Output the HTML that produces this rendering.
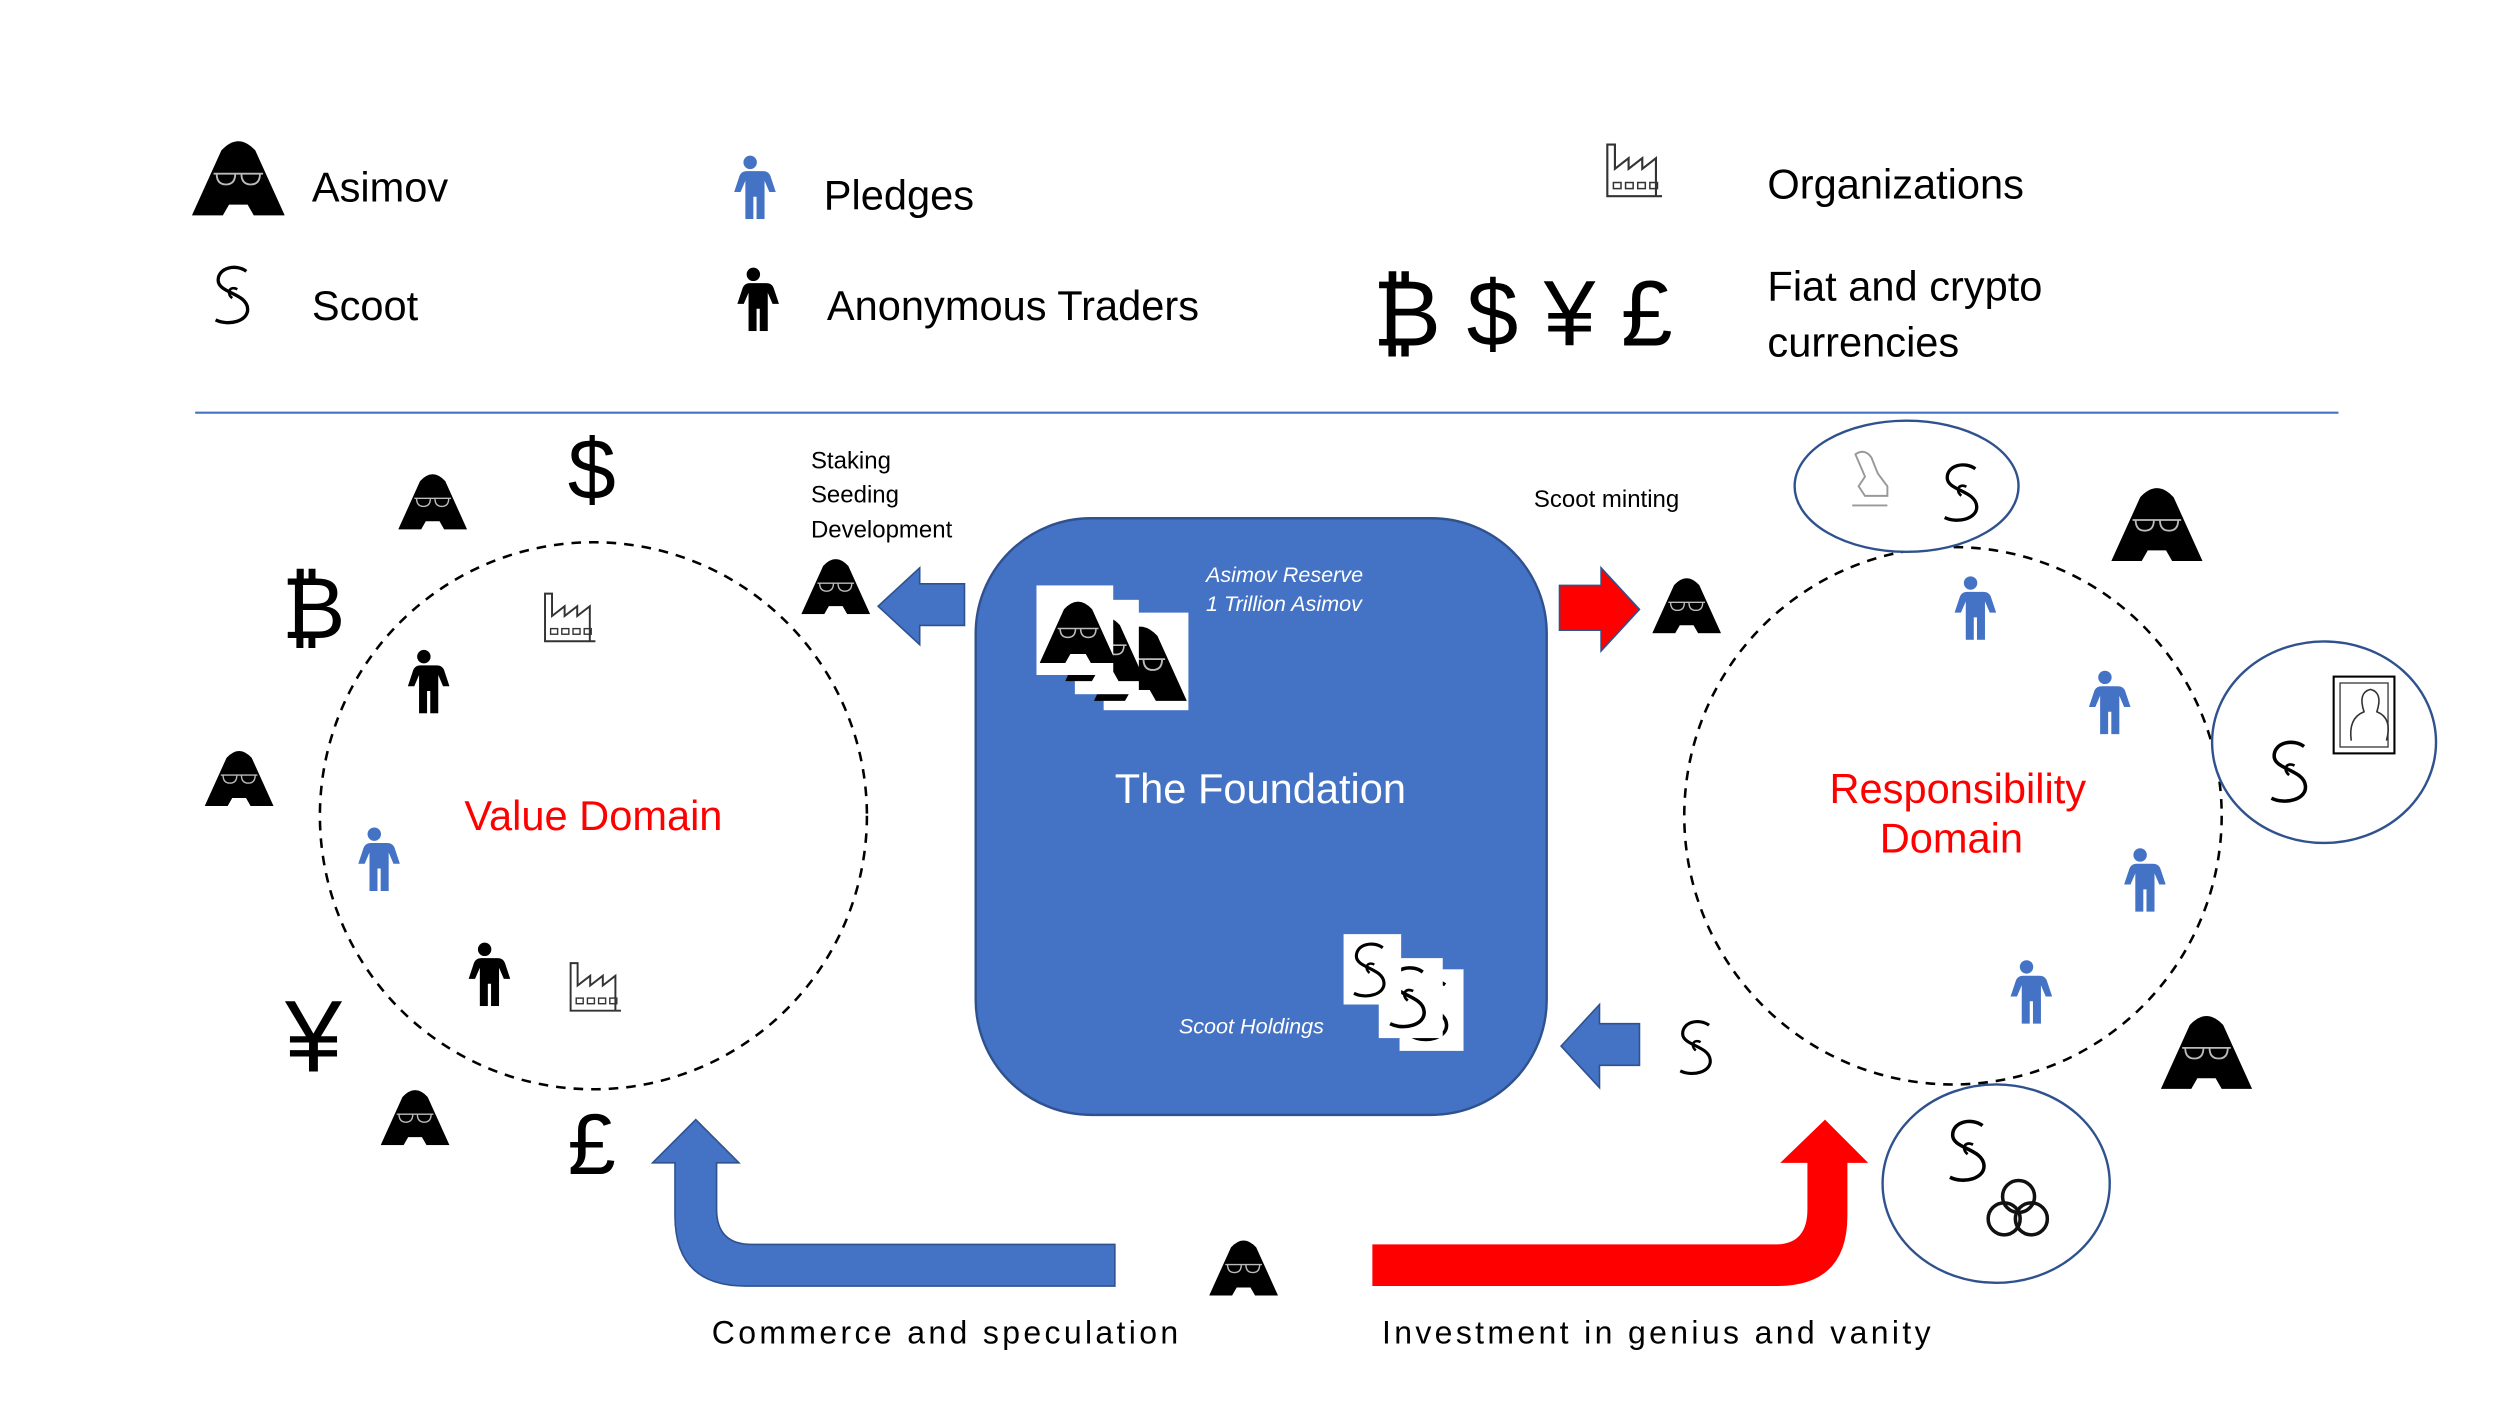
<!DOCTYPE html>
<html><head><meta charset="utf-8"><style>
html,body{margin:0;padding:0;background:#fff;}
svg{display:block;}
text{font-family:"Liberation Sans","DejaVu Sans",sans-serif;}
</style></head><body>
<svg width="2500" height="1406" viewBox="0 0 1563 879" xmlns="http://www.w3.org/2000/svg">
<defs>
<symbol id="asi" viewBox="0 0 60 50">
<path d="M0,50 L19,8 Q30,-4 41,8 L60,50 L40,50 L36,43 L24,43 L20,50 Z" fill="#000"/>
<path d="M14,23 h32 M16,23 q0,7 6,7 q6,0 6,-7 M32,23 q0,7 6,7 q6,0 6,-7" fill="none" stroke="#bbb" stroke-width="1.2"/>
</symbol>
<symbol id="sc" viewBox="0 0 40 50">
<path d="M30,7 C22,1 8,4 8,14 C8,24 30,24 31,36 C32,46 16,50 6,45" fill="none" stroke="#000" stroke-width="2.6"/>
<path d="M23,21 C17,18 14,24 19,28" fill="none" stroke="#000" stroke-width="2"/>
</symbol>
<symbol id="pp" viewBox="0 0 32 40">
<circle cx="16" cy="4.5" r="4.2"/>
<path d="M8,10 h16 q4,0 5,4 l3,9 h-4 l-3,-7 v24 h-5 v-14 h-2 v14 h-5 v-24 l-3,7 h-4 l3,-9 q1,-4 5,-4 Z"/>
</symbol>
<symbol id="fac" viewBox="0 0 40 38">
<path d="M2,36 V2 h5 V18 l9,-7 v7 l9,-7 v7 l9,-7 v25 Z M2,36 h36" fill="none" stroke="#333" stroke-width="1.4"/>
<rect x="6" y="27" width="5" height="4" fill="none" stroke="#333"/><rect x="14" y="27" width="5" height="4" fill="none" stroke="#333"/><rect x="22" y="27" width="5" height="4" fill="none" stroke="#333"/><rect x="30" y="27" width="5" height="4" fill="none" stroke="#333"/>
</symbol>
</defs>

<use href="#asi" x="120" y="86" width="58" height="49"/>
<text x="195" y="126" font-size="26">Asimov</text>
<use href="#sc" x="130" y="163" width="32" height="42"/>
<text x="195" y="200" font-size="26">Scoot</text>
<use href="#pp" x="452" y="97" width="34" height="40" fill="#4472c4"/>
<text x="515" y="131" font-size="26">Pledges</text>
<use href="#pp" x="454" y="167" width="34" height="40" fill="#000"/>
<text x="517" y="200" font-size="26">Anonymous Traders</text>
<use href="#fac" x="1003" y="88" width="38" height="37"/>
<text x="1105" y="124" font-size="26">Organizations</text>
<text x="858" y="216" font-size="58" letter-spacing="16">₿$¥£</text>
<text x="1105" y="188" font-size="26">Fiat and crypto</text>
<text x="1105" y="223" font-size="26">currencies</text>
<line x1="122" y1="258" x2="1462" y2="258" stroke="#4472c4" stroke-width="1.3"/>

<circle cx="371" cy="510" r="171" fill="none" stroke="#000" stroke-width="1.6" stroke-dasharray="6,5"/>
<circle cx="1221" cy="510" r="168" fill="none" stroke="#000" stroke-width="1.6" stroke-dasharray="6,5"/>
<text x="371" y="519" font-size="26" fill="#f00" text-anchor="middle">Value Domain</text>
<text x="1224" y="502" font-size="26" fill="#f00" text-anchor="middle">Responsibility</text>
<text x="1220" y="533" font-size="26" fill="#f00" text-anchor="middle">Domain</text>

<rect x="610" y="324" width="357" height="373" rx="72" fill="#4472c4" stroke="#2f528f" stroke-width="1.5"/>
<text x="788" y="502" font-size="26" fill="#fff" text-anchor="middle">The Foundation</text>
<text x="754" y="364" font-size="13.5" fill="#fff" font-style="italic">Asimov Reserve</text>
<text x="754" y="382" font-size="13.5" fill="#fff" font-style="italic">1 Trillion Asimov</text>
<text x="737" y="646" font-size="13.5" fill="#fff" font-style="italic">Scoot Holdings</text>
<rect x="690" y="383" width="53" height="61" fill="#fff"/><use href="#asi" x="684" y="388" width="58" height="52"/>
<rect x="672" y="375" width="40" height="59" fill="#fff"/><use href="#asi" x="666" y="380" width="50" height="50"/>
<rect x="648" y="366" width="48" height="56" fill="#fff"/><use href="#asi" x="650" y="372" width="48" height="45"/>
<rect x="875" y="606" width="40" height="51" fill="#fff"/><use href="#sc" x="878" y="608" width="34" height="46"/>
<rect x="862" y="599" width="40" height="50" fill="#fff"/><use href="#sc" x="864" y="600" width="34" height="46"/>
<rect x="840" y="584" width="36" height="44" fill="#fff"/><use href="#sc" x="842" y="585" width="30" height="42"/>

<path d="M603,365 H575 V355 L549,379 L575,403 V391 H603 Z" fill="#4472c4" stroke="#2f528f"/>
<path d="M975,366 H1001 V355 L1025,381 L1001,407 V394 H975 Z" fill="#f00" stroke="#2f528f"/>
<path d="M1025,640 H1000 V628 L976,654 L1000,680 V666 H1025 Z" fill="#4472c4" stroke="#2f528f"/>
<text x="507" y="293" font-size="15">Staking</text>
<text x="507" y="314" font-size="15">Seeding</text>
<text x="507" y="336" font-size="15">Development</text>
<text x="959" y="317" font-size="15">Scoot minting</text>

<path d="M697,778 H470 Q448,778 448,756 V727 H462 L435,700 L408,727 H422 V760 Q422,804 466,804 H697 Z" fill="#4472c4" stroke="#2f528f"/>
<path d="M858,778 H1110 Q1130,778 1130,756 V727 H1113 L1141,700 L1168,727 H1155 V760 Q1155,804 1111,804 H858 Z" fill="#f00"/>
<text x="445" y="840" font-size="20" letter-spacing="2.1">Commerce and speculation</text>
<text x="864" y="840" font-size="20" letter-spacing="2.1">Investment in genius and vanity</text>

<use href="#asi" x="249" y="295" width="43" height="36"/>
<use href="#asi" x="128" y="468" width="43" height="36"/>
<use href="#asi" x="238" y="680" width="43" height="36"/>
<use href="#asi" x="501" y="348" width="43" height="36"/>
<use href="#asi" x="1033" y="360" width="43" height="36"/>
<use href="#asi" x="1320" y="303" width="57" height="48"/>
<use href="#asi" x="1351" y="633" width="57" height="48"/>
<use href="#asi" x="756" y="774" width="43" height="36"/>

<text x="370" y="312" font-size="54" text-anchor="middle">$</text>
<text x="196" y="399" font-size="54" text-anchor="middle">₿</text>
<text x="196" y="670" font-size="64" text-anchor="middle">¥</text>
<text x="370" y="734" font-size="54" text-anchor="middle">£</text>

<use href="#fac" x="339" y="369" width="35" height="34"/>
<use href="#fac" x="355" y="600" width="35" height="34"/>
<use href="#pp" x="249" y="406" width="32" height="40" fill="#000"/>
<use href="#pp" x="287" y="589" width="32" height="40" fill="#000"/>
<use href="#pp" x="218" y="517" width="32" height="40" fill="#4472c4"/>
<use href="#pp" x="1216" y="360" width="32" height="40" fill="#4472c4"/>
<use href="#pp" x="1300" y="419" width="32" height="40" fill="#4472c4"/>
<use href="#pp" x="1322" y="530" width="32" height="40" fill="#4472c4"/>
<use href="#pp" x="1251" y="600" width="32" height="40" fill="#4472c4"/>
<use href="#sc" x="1046" y="632" width="30" height="45"/>

<ellipse cx="1192" cy="304" rx="70" ry="41" fill="#fff" stroke="#2f528f" stroke-width="1.5"/>
<use href="#sc" x="1211" y="285" width="32" height="45"/>
<g fill="none" stroke="#999" stroke-width="1.2"><path d="M1160,284 q6,-4 10,2 l4,10 l6,8 l0,6 l-14,0 l-4,-6 l4,-6 z M1158,316 h22"/></g>
<ellipse cx="1453" cy="464" rx="70" ry="63" fill="#fff" stroke="#2f528f" stroke-width="1.5"/>
<use href="#sc" x="1415" y="458" width="34" height="48"/>
<rect x="1459" y="423" width="38" height="48" fill="#fff" stroke="#000" stroke-width="1.3"/>
<rect x="1463" y="427" width="30" height="40" fill="none" stroke="#333" stroke-width="0.8"/>
<path d="M1470,463 q-2,-14 8,-18 q-4,-12 4,-14 q8,2 4,14 q10,4 6,18" fill="none" stroke="#333" stroke-width="1"/>
<ellipse cx="1248" cy="740" rx="71" ry="62" fill="#fff" stroke="#2f528f" stroke-width="1.5"/>
<use href="#sc" x="1214" y="695" width="34" height="48"/>
<g fill="none" stroke="#111" stroke-width="2.2"><circle cx="1253" cy="762" r="10"/><circle cx="1270" cy="762" r="10"/><circle cx="1262" cy="748" r="10"/></g>
</svg>
</body></html>
